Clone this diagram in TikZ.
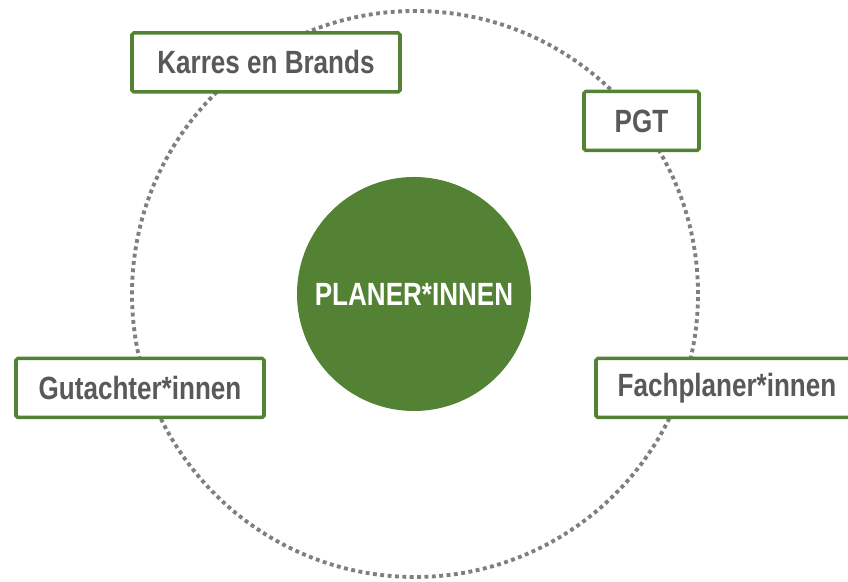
\documentclass[tikz,border=0pt]{standalone}
\usepackage{fontspec}
\setmainfont[FakeStretch=0.81]{Liberation Sans}
\usepackage{tikz}

\definecolor{planergreen}{HTML}{548235}
\definecolor{textgray}{HTML}{595959}
\definecolor{dotgray}{HTML}{7F7F7F}

\tikzset{
	partner/.style={draw=planergreen,line width=2pt,fill=white,rounded corners=1pt,
		minimum height=1.18cm,inner sep=0pt,text=textgray,
		font=\bfseries\fontsize{18.3}{22}\selectfont},
}

\begin{document}
\begin{tikzpicture}
	\useasboundingbox (0,0) rectangle (16.96,11.64);
	
	%dotted ring
	\draw[dotgray,line width=2.2pt,dash pattern=on 2.2pt off 2pt] (8.3,5.76) circle (5.66);
	
	%centre
	\node[circle,fill=planergreen,minimum size=4.68cm,inner sep=0pt,text=white,
		font=\bfseries\fontsize{18.3}{22}\selectfont] (planer) at (8.28,5.76) {PLANER*INNEN};
	
	%partners around the ring
	\node[partner,minimum width=5.36cm] (karres) at (5.32,10.39) {Karres en Brands};
	\node[partner,minimum width=2.3cm] (pgt) at (12.83,9.22) {PGT};
	\node[partner,minimum width=4.96cm] (gutachter) at (2.8,3.88) {Gutachter*innen};
	\node[partner,minimum width=5.24cm] (fachplaner) at (14.54,3.88) {Fachplaner*innen};
	
	%\draw[help lines] (0,0) grid (17,12);
\end{tikzpicture}
\end{document}
